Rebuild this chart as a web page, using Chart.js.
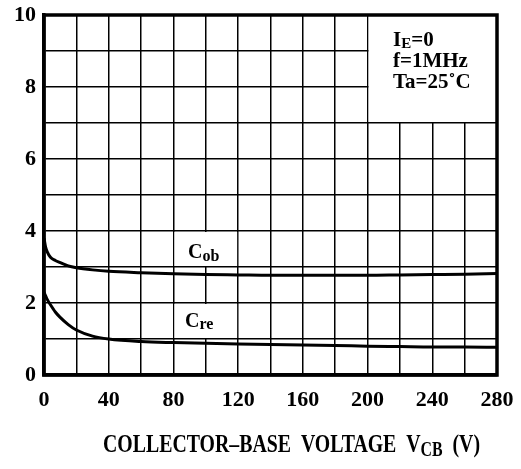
<!DOCTYPE html>
<html>
<head>
<meta charset="utf-8">
<script src="https://cdn.jsdelivr.net/npm/chart.js@4.4.0/dist/chart.umd.min.js"></script>
<style>
  body { margin: 0; background: #fff; }
  #wrap { width: 521px; height: 469px; }
</style>
</head>
<body>
<div id="wrap"><canvas id="myChart"></canvas></div>
<script>
// collector-base voltage (V)
const vcb = [0, 1, 2, 4, 7, 10, 15, 20, 30, 40, 60, 80, 100, 120, 140, 160, 180, 200, 220, 240, 260, 280];
// capacitance (pF)
const cob = [3.8, 3.55, 3.42, 3.27, 3.18, 3.12, 3.03, 2.98, 2.92, 2.88, 2.84, 2.81, 2.79, 2.78, 2.77, 2.77, 2.77, 2.77, 2.78, 2.79, 2.80, 2.82];
const cre = [2.3, 2.2, 2.1, 1.95, 1.75, 1.6, 1.4, 1.25, 1.08, 1.0, 0.93, 0.9, 0.88, 0.86, 0.85, 0.83, 0.82, 0.8, 0.79, 0.78, 0.78, 0.77];
const xLabels = [0, 40, 80, 120, 160, 200, 240, 280];
const yLabels = [0, 2, 4, 6, 8, 10];

const SERIF = '"Liberation Serif", "DejaVu Serif", serif';

function partsWidth(ctx, parts) {
  let w = 0;
  parts.forEach(p => { ctx.font = 'bold ' + p[1] + 'px ' + SERIF; w += ctx.measureText(p[0]).width; });
  return w;
}
function drawParts(ctx, parts, x, y) {
  let cx = x;
  parts.forEach(p => {
    ctx.font = 'bold ' + p[1] + 'px ' + SERIF;
    ctx.fillText(p[0], cx, y + p[2]);
    cx += ctx.measureText(p[0]).width;
  });
}

const annotations = {
  id: 'annotations',
  beforeDatasetsDraw(chart) {
    const ctx = chart.ctx;
    const xs = chart.scales.x, ys = chart.scales.y;
    ctx.save();
    ctx.fillStyle = '#fff';
    // legend box
    ctx.fillRect(xs.getPixelForValue(200) + 1, chart.chartArea.top, xs.getPixelForValue(280) - xs.getPixelForValue(200), ys.getPixelForValue(7) - chart.chartArea.top - 1);
    // label cells
    [[3, 4], [1, 2]].forEach(r => {
      const x0 = xs.getPixelForValue(80) + 1, x1 = xs.getPixelForValue(120) - 1;
      const y0 = ys.getPixelForValue(r[1]) + 1, y1 = ys.getPixelForValue(r[0]) - 1;
      ctx.fillRect(x0, y0, x1 - x0, y1 - y0);
    });
    ctx.restore();
  },
  afterDraw(chart) {
    const ctx = chart.ctx;
    const a = chart.chartArea;
    ctx.save();
    ctx.strokeStyle = '#000';
    ctx.lineWidth = 3.5;
    ctx.strokeRect(a.left, a.top, a.right - a.left, a.bottom - a.top);

    ctx.fillStyle = '#000';
    ctx.textBaseline = 'alphabetic';
    ctx.textAlign = 'left';
    // conditions
    drawParts(ctx, [['I', 21, 0], ['E', 15, 2], ['=0', 21, 0]], 393, 46);
    drawParts(ctx, [['f=1MHz', 21, 0]], 393, 67);
    drawParts(ctx, [['Ta=25\u02DAC', 21, 0]], 393, 88);

    // curve labels
    drawParts(ctx, [['C', 20, 0], ['ob', 16, 3]], 188, 258);
    drawParts(ctx, [['C', 20, 0], ['re', 16, 2]], 185, 327);

    // axis title, fitted to its width
    const title = [['COLLECTOR\u2013BASE  VOLTAGE  V', 25, 0], ['CB', 20, 4], ['  (V)', 25, 0]];
    const w = partsWidth(ctx, title);
    const target = 377;
    ctx.translate(103, 452);
    ctx.scale(target / w, 1);
    drawParts(ctx, title, 0, 0);
    ctx.restore();
  }
};

const ctx = document.getElementById('myChart');
const config = {
  type: 'line',
  data: {
    datasets: [{
      label: 'Cob',
      data: vcb.map((v, i) => ({ x: v, y: cob[i] })),
      borderColor: '#000',
      borderWidth: 3,
      pointRadius: 0,
      cubicInterpolationMode: 'monotone'
    }, {
      label: 'Cre',
      data: vcb.map((v, i) => ({ x: v, y: cre[i] })),
      borderColor: '#000',
      borderWidth: 3,
      pointRadius: 0,
      cubicInterpolationMode: 'monotone'
    }]
  },
  options: {
    responsive: true,
    maintainAspectRatio: false,
    animation: false,
    layout: { padding: { top: 15, right: 24, left: 0, bottom: 0 } },
    plugins: { legend: { display: false }, tooltip: { enabled: false } },
    scales: {
      x: {
        type: 'linear',
        min: 0, max: 280,
        afterFit(s) { s.height = 94; s.paddingLeft = 0; s.paddingRight = 0; },
        grid: { color: '#000', lineWidth: 1.5, drawTicks: false },
        border: { display: true, color: '#000', width: 3.5 },
        ticks: {
          stepSize: 20, autoSkip: false, maxRotation: 0, padding: 12,
          color: '#000',
          font: { family: SERIF, size: 22, weight: 'bold' },
          callback: v => xLabels.includes(v) ? String(v) : ''
        }
      },
      y: {
        min: 0, max: 10,
        afterFit(s) { s.width = 44; s.paddingTop = 0; s.paddingBottom = 0; },
        grid: { color: '#000', lineWidth: 1.5, drawTicks: false },
        border: { display: true, color: '#000', width: 3.5 },
        ticks: {
          stepSize: 1, autoSkip: false, padding: 8,
          color: '#000',
          font: { family: SERIF, size: 22, weight: 'bold' },
          callback: v => yLabels.includes(v) ? String(v) : ''
        }
      }
    }
  },
  plugins: [annotations]
};
new Chart(ctx, config);
</script>
</body>
</html>
